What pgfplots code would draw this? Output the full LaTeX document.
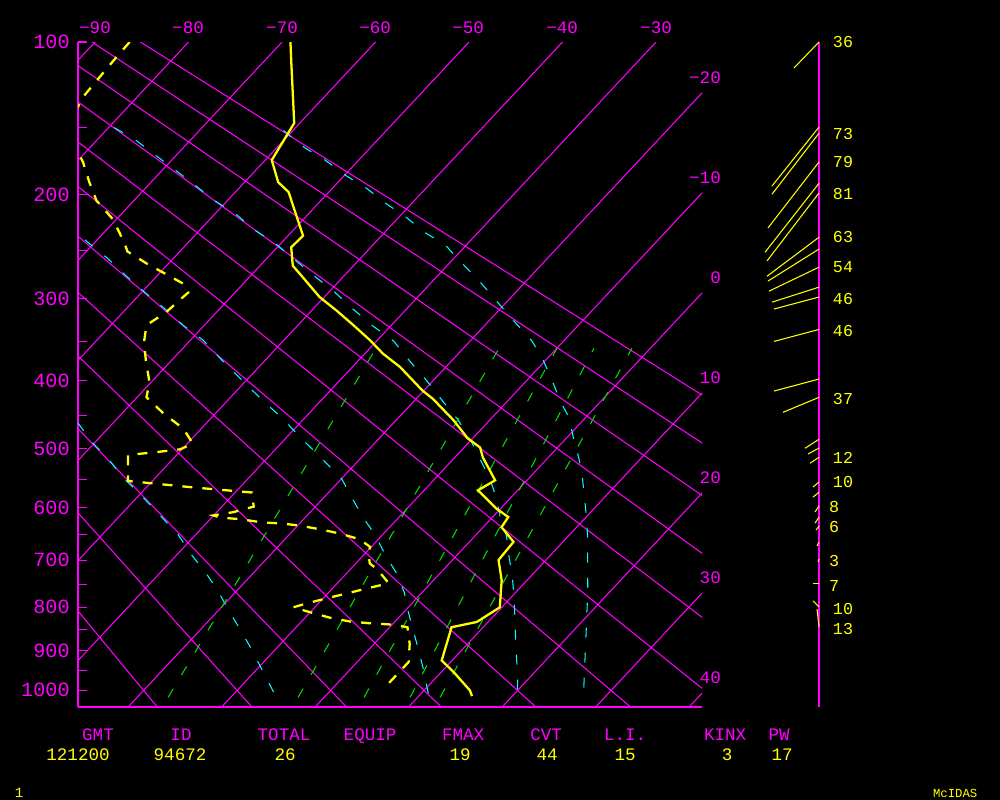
\documentclass[border=0pt]{standalone}
\usepackage{fontspec}
\setmainfont{Liberation Mono}
\usepackage{pgfplots}
\pgfplotsset{compat=1.18}
\usepackage{pgfplotstable}

\definecolor{mag}{RGB}{255,0,255}
\definecolor{yel}{RGB}{255,255,0}
\definecolor{cya}{RGB}{0,255,255}
\definecolor{grn}{RGB}{0,220,0}

% skew-T: X = T - 18.63*(p^0.286 - 100^0.286)
\newcommand{\skewx}{\thisrow{T}-18.63*(\thisrow{p}^0.286-3.7325)}

% temperature (C) at pressure (hPa)
\pgfplotstableread{
p T
100 -69.1
111 -66.9
125 -64.3
147 -60.6
173 -59.3
190 -56.4
198 -54.3
236 -48.4
247 -48.5
265 -46.5
277 -44.25
298 -40.5
313 -37.35
330 -34.07
348 -30.8
365 -28.04
382 -24.9
414 -20.1
425 -18.25
456 -13.9
484 -10.5
498 -8.3
514 -7.0
552 -3.4
569 -4.24
602 -0.41
617 1.67
636 1.97
664 4.71
700 4.93
742 7.3
800 9.79
833 8.79
845 6.62
924 8.88
957 11.63
1000 14.9
1015 15.69
}\temptab

% dewpoint
\pgfplotstableread{
p T
100 -86.3
108 -86.2
119 -86.0
130 -85.8
150 -84.5
175 -79.2
190 -76.6
205 -74.0
221 -70.4
242 -66.9
251 -65.6
263 -62.3
273 -59.4
284 -56.3
293 -55.0
315 -55.4
330 -56.2
350 -54.8
374 -52.7
402 -50.2
423 -49.0
446 -45.6
469 -41.9
492 -39.4
501 -40.2
506 -42.8
510 -45.2
553 -42.6
564 -35.1
573 -28.2
598 -26.6
608 -28.2
614 -30.05
618 -29.1
621 -26.8
627 -24.1
629 -21.9
633 -19.8
640 -17.2
648 -14.7
659 -12.0
674 -10.1
684 -9.8
707 -8.5
719 -7.1
748 -4.5
759 -6.3
770 -8.0
780 -9.6
791 -11.2
800 -12.3
811 -10.0
823 -7.4
832 -4.8
836 -2.5
839 0.0
845 1.9
884 3.8
928 5.5
943 5.5
979 5.5
1000 6.0
}\dewtab

% saturated adiabats
\pgfplotstableread{
p T
152 -61.0
164 -57.0
173 -53.6
185 -49.75
195 -46.3
207 -42.9
219 -39.3
233 -35.7
245 -32.2
262 -28.75
282 -24.8
304 -20.9
327 -17.0
349 -13.4
372 -10.4
398 -7.5
428 -4.4
453 -1.7
484 0.8
516 3.4
548 5.7
587 8.2
620 10.2
661 12.5
711 15.0
763 17.5
818 19.9
876 22.3
924 24.2
974 26.1
1020 27.8
}\moistA
\pgfplotstableread{
p T
150 -79.4
159 -75.7
168 -72.7
179 -69.1
191 -65.4
205 -61.4
216 -57.9
231 -54.1
243 -50.65
259 -46.9
275 -43.3
292 -39.5
311 -35.8
331 -31.9
349 -28.2
374 -24.5
400 -20.7
428 -17.0
455 -13.5
487 -10.0
516 -7.2
549 -4.15
580 -1.7
620 1.0
653 3.4
693 5.7
731 7.9
770 9.9
818 12.2
876 14.8
924 16.9
974 19.0
1020 20.7
}\moistB
\pgfplotstableread{
p T
240 -71.3
257 -67.2
275 -63.4
293 -59.65
311 -55.9
331 -52.1
348 -48.65
374 -44.5
400 -40.4
428 -36.2
453 -32.4
484 -28.3
516 -24.1
549 -20.0
582 -17.0
618 -13.8
651 -10.75
691 -7.6
729 -4.5
767 -1.95
811 0.5
859 3.2
904 5.65
954 8.2
1020 11.3
}\moistC
\pgfplotstableread{
p T
460 -53.8
490 -50.3
514 -47.2
547 -43.5
575 -40.1
618 -35.3
651 -31.8
691 -28.3
731 -24.7
767 -21.8
811 -18.6
857 -15.3
904 -12.1
954 -9.0
1020 -5.0
}\moistD

% wind sticks: speed components in knots (u east, v north)
\pgfplotstableread{
p u v
100 -25 -26
149.7 -47 -59
153.9 -47 -61
174.5 -51 -66
191 -54 -69
198.8 -52 -68
237.6 -52 -39
248.8 -51 -32
266.7 -50 -24
287.5 -47 -15
298.2 -45 -12
335.3 -45 -12
398.3 -45 -12
423.5 -36 -15
485.6 -14 -9
499.4 -11 -6
514.1 -9 -6
555.4 -6 -5
572.9 -6 -5
597.4 -4 -6
617.7 -4 -6
634.4 -3 -4
665 -2 -4
698.4 -1 -3
750 -6 0
800 -6 6
845.5 -2 18
}\windtab
\pgfplotstableread{
p lab
100 36
154.6 73
174.5 79
199.6 81
237.6 63
266.7 54
300.3 46
337.6 46
426.3 37
515.7 12
555.4 10
804.5 10
850 13
}\spdtwo
\pgfplotstableread{
p lab
599.1 8
636.2 6
702.5 3
754.3 7
}\spdone

\newcommand{\fa}{\fontsize{11.5}{12}\selectfont}
\newcommand{\fb}{\fontsize{10}{11}\selectfont}
\newcommand{\fc}{\fontsize{9.5}{10}\selectfont}

\begin{document}
\begin{tikzpicture}
\fill[black] (0,0) rectangle (20cm,-16cm);
\begin{axis}[
  at={(1.56cm,-14.14cm)}, anchor=south west,
  width=12.48cm, height=13.3cm, scale only axis,
  xmin=-91.82, xmax=-25.08,
  y coord trafo/.code={\pgfmathparse{(#1)^0.286}},
  y coord inv trafo/.code={\pgfmathparse{(#1)^(3.4965)}},
  ymin=100, ymax=1044, y dir=reverse,
  axis x line*=bottom, axis y line*=left,
  axis line style={mag, line width=0.6pt, -},
  xtick=\empty,
  ytick={100,200,300,400,500,600,700,800,900,1000},
  yticklabels={100,200,300,400,500,600,700,800,900,1000},
  minor ytick={150,250,350,450,550,650,750,850,950},
  tick style={mag, line width=0.6pt},
  major tick length=0.18cm, minor tick length=0.18cm,
  tick align=inside,
  yticklabel style={mag, font=\fa, anchor=east, inner sep=0pt, xshift=-0.16cm},
  iso/.style={mag, line width=0.6pt},
  sat/.style={cya, line width=0.6pt, dash pattern=on 0.2cm off 0.3cm},
  mix/.style={grn, line width=0.6pt, dash pattern=on 0.2cm off 0.32cm},
]
% isotherms
\pgfplotsinvokeforeach{-90,-80,...,40}{
  \addplot[iso] table[row sep=\\, x expr={#1-18.63*(\thisrow{p}^0.286-3.7325)}, y=p] {p\\100\\1044\\};
}
% dry adiabats (potential temperature, C)
\pgfplotsinvokeforeach{-20,-10,...,90}{
  \addplot[iso] table[row sep=\\, x expr={(#1+273.15)*(\thisrow{p}/1000)^0.286-273.15-18.63*(\thisrow{p}^0.286-3.7325)}, y=p] {p\\100\\1044\\};
}
% saturated adiabats
\addplot[sat] table[x expr=\skewx, y=p] {\moistA};
\addplot[sat] table[x expr=\skewx, y=p] {\moistB};
\addplot[sat] table[x expr=\skewx, y=p] {\moistC};
\addplot[sat] table[x expr=\skewx, y=p] {\moistD};
% mixing ratio lines
\addplot[mix] table[row sep=\\, x expr=\skewx, y=p] {p T\\1018 -16.69\\358 -29.35\\};
\addplot[mix] table[row sep=\\, x expr=\skewx, y=p] {p T\\1018 -2.79\\358 -16.19\\};
\addplot[mix] table[row sep=\\, x expr=\skewx, y=p] {p T\\1018 4.27\\358 -9.99\\};
\addplot[mix] table[row sep=\\, x expr=\skewx, y=p] {p T\\1018 9.19\\358 -6.03\\};
\addplot[mix] table[row sep=\\, x expr=\skewx, y=p] {p T\\1018 12.4\\358 -1.97\\};
% sounding
\addplot[yel, line width=1.3pt, dash pattern=on 0.2cm off 0.2cm] table[x expr=\skewx, y=p] {\dewtab};
\addplot[yel, line width=1.3pt] table[x expr=\skewx, y=p] {\temptab};
\end{axis}

\begin{axis}[
  at={(14.8cm,-14.14cm)}, anchor=south west,
  width=3.2cm, height=13.3cm, scale only axis,
  xmin=740, xmax=900, ymin=3.7325, ymax=7.3020, y dir=reverse,
  hide axis, clip=false,
]
\addplot[mag, line width=0.6pt] table[row sep=\\, x expr=819, y expr=\thisrow{p}^0.286] {p\\100\\1044\\};
\addplot[yel, line width=0.6pt, -, quiver={u=\thisrow{u}, v=-\thisrow{v}/186.3}]
  table[x expr=819, y expr=\thisrow{p}^0.286] {\windtab};
\addplot[draw=none, mark=none, nodes near coords, point meta=explicit symbolic,
  nodes near coords style={anchor=center, yel, font=\fc, inner sep=0pt}]
  table[x expr=843, y expr=\thisrow{p}^0.286, meta=lab] {\spdtwo};
\addplot[draw=none, mark=none, nodes near coords, point meta=explicit symbolic,
  nodes near coords style={anchor=center, yel, font=\fc, inner sep=0pt}]
  table[x expr=834, y expr=\thisrow{p}^0.286, meta=lab] {\spdone};
\end{axis}

\begin{scope}[x=0.02cm, y=-0.02cm]
% isotherm labels
\foreach \t/\xx in {−90/95,−80/188,−70/282,−60/375,−50/468,−40/562,−30/656}
  \node[mag, font=\fb, inner sep=0pt] at (\xx,27.5) {\t};
\foreach \t [count=\i from 0] in {−20,−10,0,10,20,30,40}
  \node[mag, font=\fb, inner sep=0pt, anchor=east] at (721,78+100*\i) {\t};
% indices
\foreach \t/\xx in {GMT/98,ID/181,TOTAL/284,EQUIP/370,FMAX/463,CVT/546,L.I./625,KINX/725,PW/779}
  \node[mag, font=\fb, inner sep=0pt, anchor=base] at (\xx,740.3) {\t};
\foreach \t/\xx in {121200/78,94672/180,26/285,19/460,44/547,15/625,3/727,17/782}
  \node[yel, font=\fb, inner sep=0pt, anchor=base] at (\xx,760.3) {\t};
\node[yel, font=\fontsize{8}{9}\selectfont, inner sep=0pt] at (19,793) {1};
\node[yel, font=\fontsize{7}{8}\selectfont, inner sep=0pt] at (955,793) {McIDAS};
\end{scope}
\end{tikzpicture}
\end{document}
